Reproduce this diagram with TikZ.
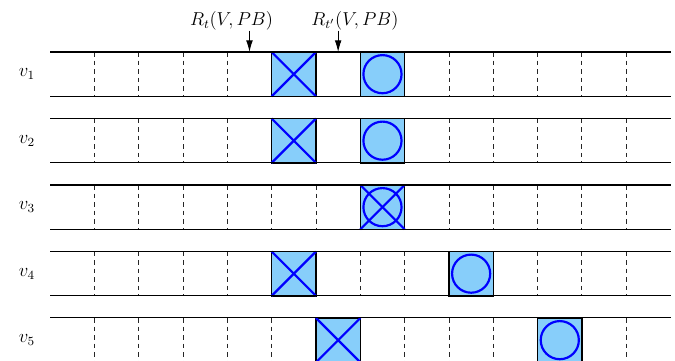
\documentclass[tikz,border=0pt]{standalone}
\usetikzlibrary{arrows.meta}
\definecolor{cellfill}{RGB}{135,206,250}
\tikzset{
  lane/.style={line width=0.65pt, black},
  slot/.style={dash pattern=on 3pt off 2.5pt, line width=0.6pt, black!85},
  cell/.style={draw=black, line width=0.9pt, fill=cellfill, minimum size=1cm, inner sep=0pt, outer sep=0pt},
  slotmark/.style={draw=blue, line width=1.4pt},
  lbl/.style={font=\fontsize{12}{14}\selectfont, inner sep=0pt},
  ptr/.style={-{Latex[length=2.6mm,width=1.5mm]}, line width=0.6pt}
}
\begin{document}
\begin{tikzpicture}[x=1cm,y=1cm]
\useasboundingbox (-1.128,1.173) rectangle (14.099,-6.97);

% five lanes of fourteen slots each
\foreach \r in {1,...,5}{
  \pgfmathsetmacro{\top}{-1.5*(\r-1)}
  \foreach \c in {1,...,13}
    \draw[slot] (\c,\top) -- (\c,\top-1);
  \node[lbl] (v\r) at (-0.52,\top-0.5) {$v_{\r}$};
}

% occupied slots: crosses
\foreach \name/\x/\y in {x1/5.5/-0.5, x2/5.5/-2, x4/5.5/-5, x5/6.5/-6.5}{
  \node[cell] (\name) at (\x,\y) {};
  \draw[slotmark] (\name.north west) -- (\name.south east);
  \draw[slotmark] (\name.north east) -- (\name.south west);
}
% occupied slots: circles
\foreach \name/\x/\y in {o1/7.5/-0.5, o2/7.5/-2, o4/9.5/-5, o5/11.5/-6.5}{
  \node[cell] (\name) at (\x,\y) {};
  \draw[slotmark] (\name.center) circle (0.43);
}
% slot holding both a cross and a circle
\node[cell] (xo3) at (7.5,-3.5) {};
\draw[slotmark] (xo3.center) circle (0.43);
\draw[slotmark] (xo3.north west) -- (xo3.south east);
\draw[slotmark] (xo3.north east) -- (xo3.south west);

% lane borders
\foreach \r in {1,...,5}{
  \pgfmathsetmacro{\top}{-1.5*(\r-1)}
  \draw[lane] (0,\top) -- (14,\top);
  \draw[lane] (0,\top-1) -- (14,\top-1);
}

% rank pointers
\node[lbl] (rt) at (4.094,0.70) {$R_t(V,PB)$};
\node[lbl] (rtp) at (6.88,0.70) {$R_{t'}(V,PB)$};
\coordinate (rtend) at (4.5,0);
\coordinate (rtpend) at (6.5,0);
\draw[ptr] (rtend |- 0,0.48) -- (rtend);
\draw[ptr] (rtpend |- 0,0.48) -- (rtpend);
\end{tikzpicture}
\end{document}
